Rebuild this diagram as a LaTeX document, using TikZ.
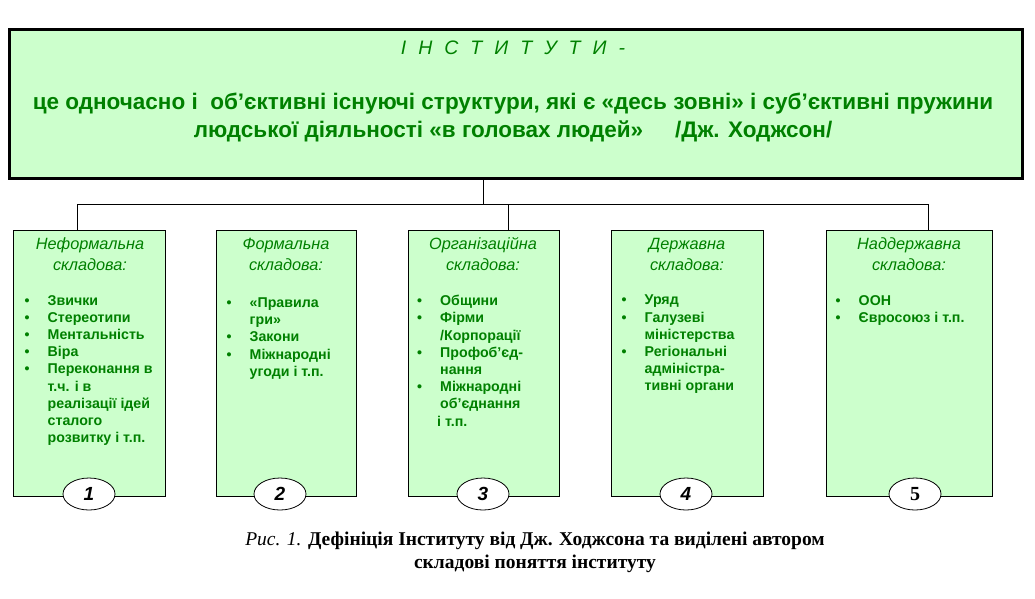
\documentclass[tikz,border=0pt]{standalone}
\usepackage{fontspec}
\setmainfont{Liberation Serif}
\newfontfamily\ars{Liberation Sans}
\usetikzlibrary{shapes.geometric}
\definecolor{gfill}{RGB}{204,255,204}
\definecolor{gtext}{RGB}{0,128,0}
\newcommand\bl{\makebox[23pt][l]{\textbullet}}
\newcommand\cl{\hspace*{23pt}}
\newcommand\gs{\hspace{12pt}}
\tikzset{
  topbox/.style={draw=black, line width=3pt, fill=gfill, minimum width=1013pt, minimum height=149pt, anchor=north west, inner sep=0pt},
  subbox/.style={draw=black, line width=0.9pt, fill=gfill, minimum height=266pt, anchor=north west, inner sep=0pt},
  ttl/.style={text=gtext, align=center, inner sep=0pt, font={\ars\itshape\fontsize{16.3}{21}\selectfont}},
  lst/.style={text=gtext, align=left, inner sep=0pt, anchor=north west, font={\ars\bfseries\fontsize{14.2}{17.2}\selectfont}},
  ell/.style={ellipse, draw=black, line width=0.8pt, fill=white, minimum width=52pt, minimum height=32pt, inner sep=0pt, font={\ars\bfseries\itshape\fontsize{19}{20}\selectfont}},
  conn/.style={draw=black, line width=0.8pt}
}
\begin{document}
\begin{tikzpicture}[x=1pt,y=-1pt]
\useasboundingbox (0,0) rectangle (1035,598);
% top box
\node[topbox] (top) at (7.5,27.5) {};
\node[text=gtext, inner sep=0pt, font={\ars\itshape\fontsize{19.5}{22}\selectfont}] (tt) at (513,48) {І\gs Н\gs С\gs Т\gs И\gs Т\gs У\gs Т\gs И\gs -};
\node[text=gtext, inner sep=0pt, align=center, font={\ars\bfseries\fontsize{22.5}{28}\selectfont}] (tb) at (513,117)
  {це одночасно і\ \ об’єктивні існуючі структури, які є «десь зовні» і суб’єктивні пружини\\
   людської діяльності «в головах людей»\hspace{32pt}/Дж. Ходжсон/};
% sub boxes
\node[subbox, minimum width=152pt] (b1) at (13,230) {};
\node[subbox, minimum width=140pt] (b2) at (216,230) {};
\node[subbox, minimum width=151pt] (b3) at (408,230) {};
\node[subbox, minimum width=152pt] (b4) at (611,230) {};
\node[subbox, minimum width=166pt] (b5) at (826,230) {};
% connectors
\coordinate (j0) at (483,204);
\coordinate (jl) at (77,204);
\coordinate (jm) at (508,204);
\coordinate (jr) at (928,204);
\draw[conn] (top.south -| j0) -- (j0);
\draw[conn] (jl) -- (jr);
\draw[conn] (jl) -- (b1.north -| jl);
\draw[conn] (jm) -- (b3.north -| jm);
\draw[conn] (jr) -- (b5.north -| jr);
% titles
\node[ttl] (t1) at (90,254.5) {Неформальна\\складова:};
\node[ttl] (t2) at (286,254.5) {Формальна\\складова:};
\node[ttl] (t3) at (483,254.5) {Організаційна\\складова:};
\node[ttl] (t4) at (687,254.5) {Державна\\складова:};
\node[ttl] (t5) at (909,254.5) {Наддержавна\\складова:};
% lists
\node[lst] (l1) at (24.5,295) {\bl Звички\\ \bl Стереотипи\\ \bl Ментальність\\ \bl Віра\\ \bl Переконання в\\ \cl т.ч. і в\\ \cl реалізації ідей\\ \cl сталого\\ \cl розвитку і т.п.};
\node[lst] (l2) at (226.5,297.5) {\bl «Правила\\ \cl гри»\\ \bl Закони\\ \bl Міжнародні\\ \cl угоди і т.п.};
\node[lst] (l3) at (417,295) {\bl Общини\\ \bl Фірми\\ \cl /Корпорації\\ \bl Профоб’єд-\\ \cl нання\\ \bl Міжнародні\\ \cl об’єднання\\ \hspace*{20pt}і т.п.};
\node[lst] (l4) at (621.5,295) {\bl Уряд\\ \bl Галузеві\\ \cl міністерства\\ \bl Регіональні\\ \cl адміністра-\\ \cl тивні органи};
\node[lst] (l5) at (835.5,295) {\bl ООН\\ \bl Євросоюз і т.п.};
% ellipses
\node[ell] (e1) at (89,494) {1};
\node[ell] (e2) at (280,494) {2};
\node[ell] (e3) at (483,494) {3};
\node[ell] (e4) at (686,494) {4};
\node[ell, font={\bfseries\fontsize{20}{20}\selectfont}] (e5) at (915,494) {5};
% caption
\node[inner sep=0pt, align=center, font={\fontsize{19.5}{23}\selectfont}] (cap) at (535,552)
  {\textit{Рис. 1.} \textbf{Дефініція Інституту від Дж. Ходжсона та виділені автором}\\
   \textbf{складові поняття інституту}};
\end{tikzpicture}
\end{document}
